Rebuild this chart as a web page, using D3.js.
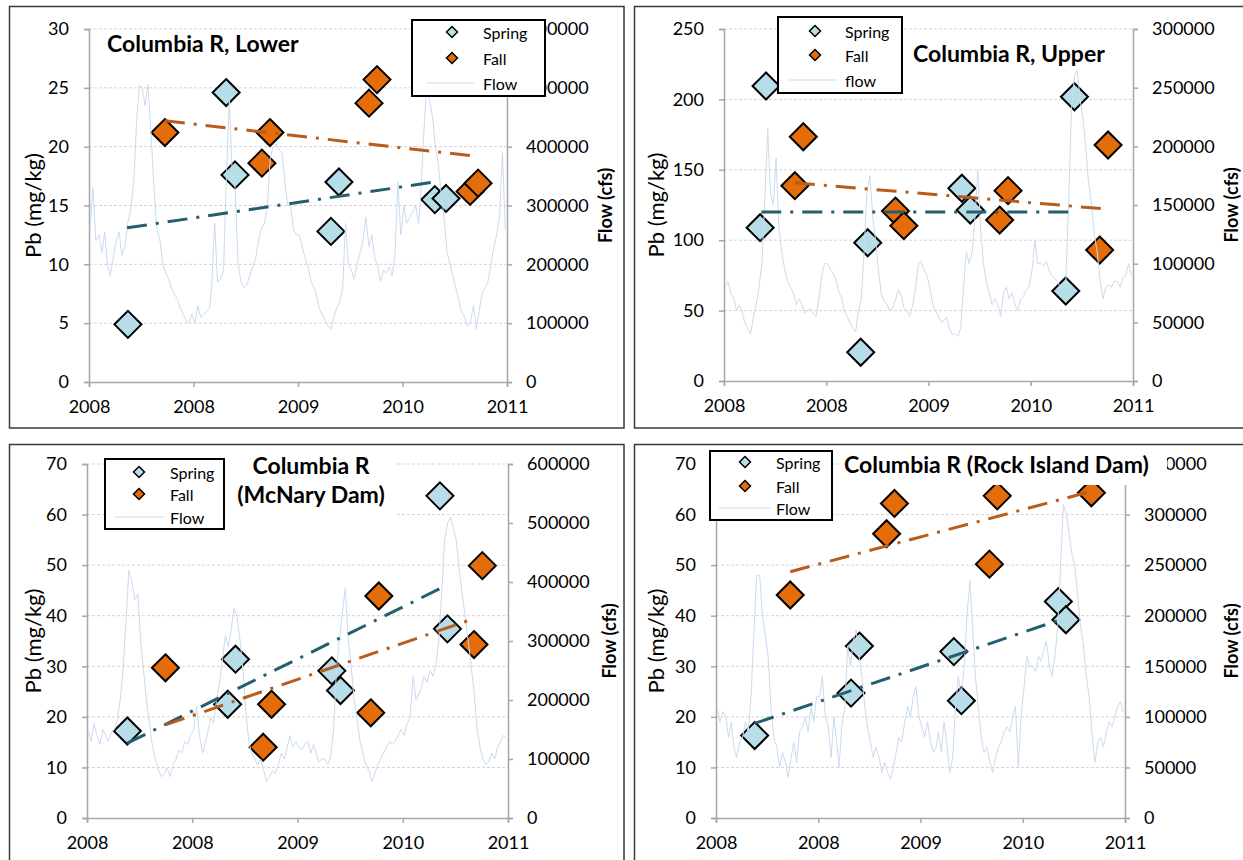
<!DOCTYPE html>
<html>
<head>
<meta charset="utf-8">
<script src="https://cdn.jsdelivr.net/npm/d3@7"></script>
<style>
  body { margin: 0; background: #fff; }
  svg { display: block; font-family: Lato, "Open Sans", sans-serif; }
</style>
</head>
<body>
<script>
// ---- Data: sample dates and Pb (mg/kg) ----

// Columbia R, Lower
const lowerSpringDates = ['2008-05-16', '2009-04-24', '2009-05-25', '2010-04-25', '2010-05-23', '2011-04-23', '2011-06-01'];
const lowerSpringPb = [4.9, 24.6, 17.6, 12.8, 17.0, 15.5, 15.6];
const lowerFallDates = ['2008-09-22', '2009-08-27', '2009-09-24', '2010-09-05', '2010-10-03', '2011-08-24', '2011-09-21'];
const lowerFallPb = [21.2, 18.6, 21.2, 23.7, 25.7, 16.2, 16.9];
const lowerSpringTrend = [['2008-05-13', 13.1], ['2011-04-23', 17.0]];
const lowerFallTrend = [['2008-09-22', 22.2], ['2011-09-07', 19.2]];

// Columbia R, Upper
const upperSpringDates = ['2008-05-09', '2008-05-30', '2009-05-03', '2009-05-28', '2010-04-29', '2010-05-29', '2011-05-05', '2011-06-05'];
const upperSpringPb = [108.9, 209.5, 20.4, 98.2, 136.9, 121.4, 63.9, 201.9];
const upperFallDates = ['2008-09-10', '2008-10-10', '2009-09-04', '2009-10-04', '2010-09-11', '2010-10-11', '2011-09-03', '2011-10-03'];
const upperFallPb = [138.7, 173.5, 120.7, 110.3, 114.3, 135.2, 93.0, 167.6];
const upperSpringTrend = [['2008-05-13', 120], ['2011-05-26', 120]];
const upperFallTrend = [['2008-09-10', 140.8], ['2011-09-23', 122.2]];

// Columbia R (McNary Dam)
const mcnarySpringDates = ['2008-05-20', '2009-05-03', '2009-05-30', '2010-04-29', '2010-05-29', '2011-05-09', '2011-06-04'];
const mcnarySpringPb = [17.2, 22.5, 31.4, 29.1, 25.2, 63.7, 37.4];
const mcnaryFallDates = ['2008-09-29', '2009-09-03', '2009-10-02', '2010-09-11', '2010-10-09', '2011-09-04', '2011-10-03'];
const mcnaryFallPb = [29.7, 14.0, 22.5, 20.8, 43.9, 34.3, 49.9];
const mcnarySpringTrend = [['2008-05-20', 14.8], ['2011-05-28', 45.9]];
const mcnaryFallTrend = [['2008-09-29', 18.4], ['2011-09-08', 39.5]];

// Columbia R (Rock Island Dam)
const rockSpringDates = ['2008-05-18', '2009-04-27', '2009-05-27', '2010-04-29', '2010-05-26', '2011-05-07', '2011-06-03'];
const rockSpringPb = [16.3, 24.7, 34.0, 32.9, 23.2, 42.8, 39.2];
const rockFallDates = ['2008-09-22', '2009-09-01', '2009-09-29', '2010-09-03', '2010-10-01', '2011-09-02'];
const rockFallPb = [44.1, 56.2, 62.2, 50.2, 63.7, 64.3];
const rockSpringTrend = [['2008-05-18', 18.7], ['2011-05-29', 39.5]];
const rockFallTrend = [['2008-09-22', 48.7], ['2011-09-09', 64.7]];

// Flow, thousand cfs, three readings per month (5th, 15th, 25th), Jan 2008 - Dec 2011
const lowerFlow = [
  260, 330, 240, 250, 220, 255, 200, 180, 210, 240, 255, 215, 230, 270, 290, 340, 440, 505,
  500, 470, 505, 420, 330, 260, 240, 200, 185, 175, 160, 150, 140, 125, 115, 105, 100, 115,
  100, 130, 110, 115, 120, 125, 165, 270, 170, 175, 190, 350, 480, 360, 330, 200, 170, 160,
  165, 180, 195, 210, 240, 260, 270, 300, 380, 400, 405, 395, 390, 340, 300, 300, 260, 250,
  250, 230, 210, 195, 170, 160, 150, 125, 115, 105, 95, 90, 110, 125, 135, 160, 270, 200,
  190, 175, 200, 220, 240, 280, 230, 250, 210, 200, 170, 190, 185, 195, 180, 220, 340, 250,
  300, 270, 280, 290, 300, 270, 320, 420, 500, 480, 450, 400, 370, 320, 280, 220, 200, 180,
  160, 140, 120, 110, 95, 100, 130, 90, 120, 150, 160, 170, 200, 230, 250, 280, 390, 260
];
const upperFlow = [
  80, 85, 75, 70, 60, 65, 60, 50, 45, 40, 55, 65, 80, 100, 150, 215, 160, 150,
  190, 130, 110, 95, 85, 80, 75, 65, 70, 65, 58, 60, 62, 57, 55, 70, 90, 100,
  100, 95, 92, 85, 75, 70, 60, 55, 50, 45, 42, 60, 70, 110, 160, 175, 140, 120,
  95, 75, 68, 65, 60, 62, 70, 78, 72, 62, 60, 55, 65, 80, 100, 102, 95, 90,
  80, 65, 60, 55, 50, 52, 55, 45, 40, 40, 38, 45, 80, 110, 100, 110, 140, 180,
  130, 100, 85, 75, 65, 70, 65, 55, 75, 80, 70, 75, 65, 60, 70, 72, 78, 80,
  95, 120, 100, 100, 98, 102, 95, 90, 88, 85, 80, 78, 85, 150, 230, 260, 265, 240,
  225, 200, 170, 150, 125, 110, 85, 70, 80, 82, 80, 85, 85, 80, 88, 90, 100, 90
];
const mcnaryFlow = [
  150, 130, 160, 140, 125, 150, 140, 130, 145, 150, 165, 200, 250, 330, 420, 400, 370, 380,
  300, 250, 200, 160, 120, 100, 80, 70, 75, 85, 70, 90, 100, 115, 110, 130, 125, 140,
  150, 190, 140, 110, 130, 150, 170, 160, 200, 230, 270, 310, 290, 320, 355, 340, 300, 250,
  180, 130, 110, 100, 90, 100, 80, 62, 70, 80, 75, 90, 110, 100, 120, 140, 120, 130,
  120, 115, 125, 130, 110, 125, 110, 95, 100, 100, 90, 105, 150, 250, 300, 350, 390, 300,
  260, 200, 170, 130, 110, 90, 80, 62, 75, 90, 100, 110, 120, 130, 125, 130, 140, 150,
  140, 160, 170, 240, 200, 210, 220, 240, 230, 250, 240, 260, 300, 380, 470, 500, 510, 490,
  470, 420, 380, 340, 300, 260, 210, 150, 120, 100, 90, 95, 110, 100, 120, 130, 140, 135
];
const rockFlow = [
  110, 95, 105, 100, 80, 95, 70, 60, 75, 80, 95, 85, 120, 180, 240, 240, 200, 180,
  160, 110, 80, 70, 50, 65, 55, 40, 60, 75, 55, 85, 90, 100, 85, 110, 95, 120,
  120, 140, 100, 90, 60, 100, 80, 50, 90, 110, 170, 150, 175, 186, 160, 140, 110, 90,
  75, 60, 70, 60, 45, 55, 45, 38, 50, 65, 80, 75, 95, 110, 100, 120, 130, 100,
  90, 80, 95, 75, 65, 70, 85, 65, 95, 70, 45, 60, 110, 140, 120, 150, 200, 235,
  190, 140, 110, 80, 65, 70, 55, 45, 60, 70, 75, 85, 90, 85, 100, 110, 50, 100,
  130, 160, 150, 150, 145, 160, 155, 165, 175, 150, 140, 160, 190, 250, 310, 300, 280, 260,
  250, 220, 190, 170, 140, 120, 80, 55, 75, 80, 70, 85, 95, 90, 100, 110, 115, 105
];

// x axis tick dates (Excel yearly steps from 1 Jan 2008)
const xTickDates = ['2008-01-01', '2008-12-31', '2009-12-31', '2010-12-31', '2011-12-31'];

// ---- Layout ----
const width = 1243;
const height = 860;
const parse = d3.timeParse('%Y-%m-%d');

const svg = d3.select('body')
    .append('svg')
    .attr('width', width)
    .attr('height', height);

const panels = [
    {
        title: ['Columbia R, Lower'], titleX: 107, titleY: [52], titleAnchor: 'start',
        frame: [9.5, 6.5, 614.5, 421.5],
        plot: { left: 89, right: 507, top: 29, bottom: 382 },
        pbMax: 30, pbStep: 5, flowMax: 600, flowStep: 100,
        springDates: lowerSpringDates, springPb: lowerSpringPb,
        fallDates: lowerFallDates, fallPb: lowerFallPb,
        springTrend: lowerSpringTrend, fallTrend: lowerFallTrend, flow: lowerFlow,
        legend: { x: 412, y: 20, w: 133, h: 76, marker: 452, text: 483, rows: [32, 58, 83], line: [427, 474] },
        flowLabel: 'Flow', pbLabelX: 32, flowLabelX: 605
    },
    {
        title: ['Columbia R, Upper'], titleX: 913, titleY: [62], titleAnchor: 'start',
        frame: [634.5, 6.5, 620, 421.5],
        plot: { left: 724, right: 1133, top: 29, bottom: 381 },
        pbMax: 250, pbStep: 50, flowMax: 300, flowStep: 50,
        springDates: upperSpringDates, springPb: upperSpringPb,
        fallDates: upperFallDates, fallPb: upperFallPb,
        springTrend: upperSpringTrend, fallTrend: upperFallTrend, flow: upperFlow,
        legend: { x: 778, y: 17, w: 124, h: 76, marker: 815, text: 845, rows: [31, 55, 80], line: [789, 838] },
        flowLabel: 'flow', pbLabelX: 655, flowLabelX: 1231
    },
    {
        title: ['Columbia R', '(McNary Dam)'], titleX: 311, titleY: [474, 503], titleAnchor: 'middle',
        titleBox: [224, 455, 173, 62],
        frame: [9.5, 444.5, 614.5, 430],
        plot: { left: 87, right: 508, top: 464, bottom: 818 },
        pbMax: 70, pbStep: 10, flowMax: 600, flowStep: 100,
        springDates: mcnarySpringDates, springPb: mcnarySpringPb,
        fallDates: mcnaryFallDates, fallPb: mcnaryFallPb,
        springTrend: mcnarySpringTrend, fallTrend: mcnaryFallTrend, flow: mcnaryFlow,
        legend: { x: 105, y: 459, w: 119, h: 70, marker: 139, text: 170, rows: [472, 494, 517], line: [115, 164] },
        flowLabel: 'Flow', pbLabelX: 32, flowLabelX: 609
    },
    {
        title: ['Columbia R (Rock Island Dam)'], titleX: 844, titleY: [473], titleAnchor: 'start',
        titleBox: [840, 450, 327, 35],
        frame: [634.5, 444.5, 620, 430],
        plot: { left: 716, right: 1125, top: 464, bottom: 818 },
        pbMax: 70, pbStep: 10, flowMax: 350, flowStep: 50,
        springDates: rockSpringDates, springPb: rockSpringPb,
        fallDates: rockFallDates, fallPb: rockFallPb,
        springTrend: rockSpringTrend, fallTrend: rockFallTrend, flow: rockFlow,
        legend: { x: 710, y: 451, w: 122, h: 69, marker: 745, text: 776, rows: [462, 486, 508], line: [719, 771] },
        flowLabel: 'Flow', pbLabelX: 655, flowLabelX: 1231
    }
];

const springFill = '#b7dee8';
const fallFill = '#e46c0a';
const springTrendColor = '#245f6e';
const fallTrendColor = '#b85c1c';
const flowColor = '#cbdbef';
const axisColor = '#a6a6a6';

// diamond marker path
const diamond = r => `M0,${-r}L${r},0L0,${r}L${-r},0Z`;

function drawPanel(p) {
    const g = svg.append('g');
    const pl = p.plot;

    // panel frame
    g.append('rect')
        .attr('x', p.frame[0]).attr('y', p.frame[1])
        .attr('width', p.frame[2]).attr('height', p.frame[3])
        .attr('fill', 'none')
        .attr('stroke', '#3a3a3a')
        .attr('stroke-width', 1.5);

    const x = d3.scaleTime()
        .domain([parse('2008-01-01'), parse('2011-12-31')])
        .range([pl.left, pl.right]);
    const y = d3.scaleLinear()
        .domain([0, p.pbMax])
        .range([pl.bottom, pl.top]);
    const yFlow = d3.scaleLinear()
        .domain([0, p.flowMax])
        .range([pl.bottom, pl.top]);

    const pbTicks = d3.range(0, p.pbMax + 0.001, p.pbStep);
    const flowTicks = d3.range(0, p.flowMax + 0.001, p.flowStep);

    // gridlines
    g.append('g')
        .selectAll('line')
        .data(pbTicks.slice(1))
        .enter()
        .append('line')
        .attr('x1', pl.left).attr('x2', pl.right)
        .attr('y1', d => y(d)).attr('y2', d => y(d))
        .attr('stroke', '#d4d4d4')
        .attr('stroke-dasharray', '3,2');

    // axes
    const styleAxis = sel => {
        sel.select('.domain').attr('stroke', axisColor).attr('stroke-width', 1.5);
        sel.selectAll('.tick line').attr('stroke', axisColor).attr('stroke-width', 1.5);
        sel.selectAll('.tick text').attr('fill', '#000').style('font-size', '18px');
        sel.attr('font-family', null);
    };

    g.append('g')
        .attr('transform', `translate(${pl.left},0)`)
        .call(d3.axisLeft(y).tickValues(pbTicks).tickSizeOuter(0).tickSize(5).tickPadding(15))
        .call(styleAxis);

    g.append('g')
        .attr('transform', `translate(${pl.right},0)`)
        .call(d3.axisRight(yFlow).tickValues(flowTicks).tickSizeOuter(0).tickSize(5).tickPadding(14)
            .tickFormat(d => d3.format('d')(d * 1000)))
        .call(styleAxis);

    g.append('g')
        .attr('transform', `translate(0,${pl.bottom})`)
        .call(d3.axisBottom(x).tickValues(xTickDates.map(parse)).tickSizeOuter(0).tickSize(5).tickPadding(13)
            .tickFormat(d3.timeFormat('%Y')))
        .call(styleAxis);

    // sample points
    const spring = p.springDates.map((d, i) => ({ date: parse(d), pb: p.springPb[i] }));
    const fall = p.fallDates.map((d, i) => ({ date: parse(d), pb: p.fallPb[i] }));

    g.append('g')
        .selectAll('path')
        .data(spring)
        .enter()
        .append('path')
        .attr('d', diamond(13.5))
        .attr('transform', d => `translate(${x(d.date)},${y(d.pb)})`)
        .attr('fill', springFill)
        .attr('stroke', '#000')
        .attr('stroke-width', 2);

    g.append('g')
        .selectAll('path')
        .data(fall)
        .enter()
        .append('path')
        .attr('d', diamond(13.5))
        .attr('transform', d => `translate(${x(d.date)},${y(d.pb)})`)
        .attr('fill', fallFill)
        .attr('stroke', '#000')
        .attr('stroke-width', 2);

    // flow hydrograph (secondary axis, drawn over the markers like Excel)
    const flow = p.flow.map((v, i) => ({ date: new Date(2008, Math.floor(i / 3), 5 + 10 * (i % 3)), v: v }));
    g.append('path')
        .datum(flow)
        .attr('d', d3.line().x(d => x(d.date)).y(d => yFlow(d.v)))
        .attr('fill', 'none')
        .attr('stroke', flowColor)
        .attr('stroke-width', 1);

    // linear trendlines
    const trendLine = d3.line().x(d => x(parse(d[0]))).y(d => y(d[1]));
    g.append('path')
        .attr('d', trendLine(p.springTrend))
        .attr('fill', 'none')
        .attr('stroke', springTrendColor)
        .attr('stroke-width', 3)
        .attr('stroke-dasharray', '20,9,3,9');
    g.append('path')
        .attr('d', trendLine(p.fallTrend))
        .attr('fill', 'none')
        .attr('stroke', fallTrendColor)
        .attr('stroke-width', 3)
        .attr('stroke-dasharray', '20,9,3,9');

    // axis titles
    const midY = (pl.top + pl.bottom) / 2;
    g.append('text')
        .attr('transform', `translate(${p.pbLabelX},${midY}) rotate(-90)`)
        .attr('text-anchor', 'middle')
        .attr('dominant-baseline', 'central')
        .style('font-size', '22px')
        .text('Pb (mg/kg)');
    g.append('text')
        .attr('transform', `translate(${p.flowLabelX},${midY}) rotate(-90)`)
        .attr('text-anchor', 'middle')
        .attr('dominant-baseline', 'central')
        .attr('font-weight', 'bold')
        .style('font-size', '18px')
        .text('Flow (cfs)');

    // chart title (white box hides what sits behind, as in the original)
    if (p.titleBox) {
        g.append('rect')
            .attr('x', p.titleBox[0]).attr('y', p.titleBox[1])
            .attr('width', p.titleBox[2]).attr('height', p.titleBox[3])
            .attr('fill', '#fff');
    }
    p.title.forEach((t, i) => {
        g.append('text')
            .attr('x', p.titleX)
            .attr('y', p.titleY[i])
            .attr('text-anchor', p.titleAnchor)
            .attr('font-weight', 'bold')
            .style('font-size', '23px')
            .text(t);
    });

    // legend
    const lg = p.legend;
    g.append('rect')
        .attr('x', lg.x).attr('y', lg.y)
        .attr('width', lg.w).attr('height', lg.h)
        .attr('fill', '#fff')
        .attr('stroke', '#000')
        .attr('stroke-width', 2);

    const items = [
        { label: 'Spring', fill: springFill },
        { label: 'Fall', fill: fallFill },
        { label: p.flowLabel, fill: null }
    ];
    items.forEach((it, i) => {
        if (it.fill) {
            g.append('path')
                .attr('d', diamond(5.5))
                .attr('transform', `translate(${lg.marker},${lg.rows[i]})`)
                .attr('fill', it.fill)
                .attr('stroke', '#000')
                .attr('stroke-width', 1.5);
        } else {
            g.append('line')
                .attr('x1', lg.line[0]).attr('x2', lg.line[1])
                .attr('y1', lg.rows[i]).attr('y2', lg.rows[i])
                .attr('stroke', flowColor)
                .attr('stroke-width', 1);
        }
        g.append('text')
            .attr('x', lg.text)
            .attr('y', lg.rows[i])
            .attr('dominant-baseline', 'central')
            .style('font-size', '16px')
            .text(it.label);
    });
}

panels.forEach(drawPanel);
</script>
</body>
</html>
